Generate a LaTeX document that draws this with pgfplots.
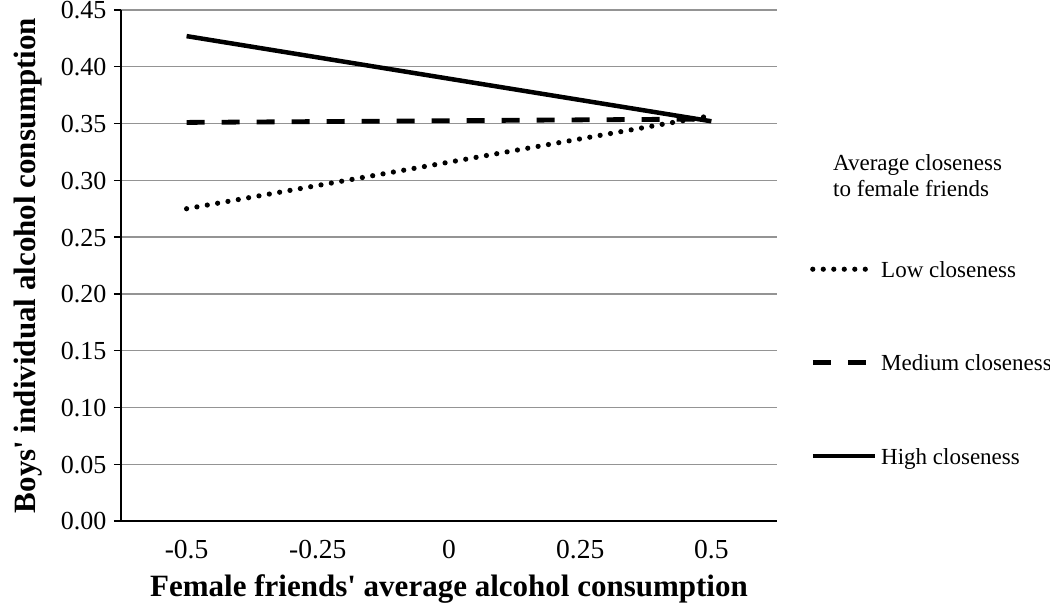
\documentclass[border=0pt]{standalone}
\usepackage{fontspec}
\setmainfont{Liberation Serif}
\usepackage{pgfplots}
\pgfplotsset{compat=1.18}

\begin{document}
\begin{tikzpicture}
\begin{axis}[
  at={(0pt,0pt)}, anchor=south west,
  scale only axis,
  width=656pt, height=511pt,
  xmin=-0.625, xmax=0.625,
  ymin=0, ymax=0.45,
  axis x line*=bottom, axis y line*=left,
  axis line style={line width=1.4pt, black},
  tick align=outside,
  xtick={-0.5,-0.25,0,0.25,0.5},
  xticklabels={-0.5,-0.25,0,0.25,0.5},
  xtick style={draw=none},
  minor xtick={-0.625,-0.375,-0.125,0.125,0.375,0.625},
  minor tick style={line width=1.4pt, black},
  minor tick length=7pt,
  major tick length=7pt,
  ytick={0,0.05,0.10,0.15,0.20,0.25,0.30,0.35,0.40,0.45},
  ytick style={line width=1.4pt, black},
  ymajorgrids,
  major grid style={line width=1.4pt, black!42},
  xticklabel style={font=\fontsize{27.5}{29}\selectfont, yshift=-9pt},
  yticklabel style={font=\fontsize{26}{28}\selectfont, xshift=-4pt, yshift=-0.5pt,
    /pgf/number format/.cd, fixed, fixed zerofill, precision=2, assume math mode=true},
  xlabel={\textbf{Female friends\textquotesingle\ average alcohol consumption}},
  xlabel style={font=\fontsize{31}{33}\selectfont, at={(axis description cs:0.5,0)}, anchor=base, yshift=-75pt},
  ylabel={\textbf{Boys\textquotesingle\ individual alcohol consumption}},
  ylabel style={font=\fontsize{31}{33}\selectfont, at={(axis description cs:-0.1418,0.5)}, anchor=center, rotate=0},
  legend style={draw=none, fill=none, at={(axis description cs:1.0503,0.5088)}, anchor=north west,
    inner sep=0pt, row sep=77.5pt, column sep=0pt,
    nodes={inner sep=0pt, text height=16pt, text depth=0pt},
    font=\fontsize{23}{25}\selectfont},
  legend cell align=left,
  legend image code/.code={\draw[#1] (0pt,0pt) -- (62pt,0pt);},
  clip=false,
]
\addplot[black, line width=5.2pt, line cap=round, dash pattern=on 0pt off 10.5pt]
  coordinates {(-0.5,0.275) (0.5,0.357)};
\addlegendentry{\,Low closeness}
\addplot[black, line width=4.8pt, dash pattern=on 18pt off 17pt]
  coordinates {(-0.5,0.351) (0.5,0.354)};
\addlegendentry{\,Medium closeness}
\addplot[black, line width=4.5pt]
  coordinates {(-0.5,0.427) (0.5,0.352)};
\addlegendentry{\,High closeness}
\node[anchor=north west, align=left, inner sep=0pt, font=\fontsize{23}{26}\selectfont]
  at (axis description cs:1.0854,0.7180) {Average closeness\\to female friends};
\end{axis}
\pgfresetboundingbox
\useasboundingbox (-121pt,-92pt) rectangle (929pt,521pt);
\end{tikzpicture}
\end{document}
